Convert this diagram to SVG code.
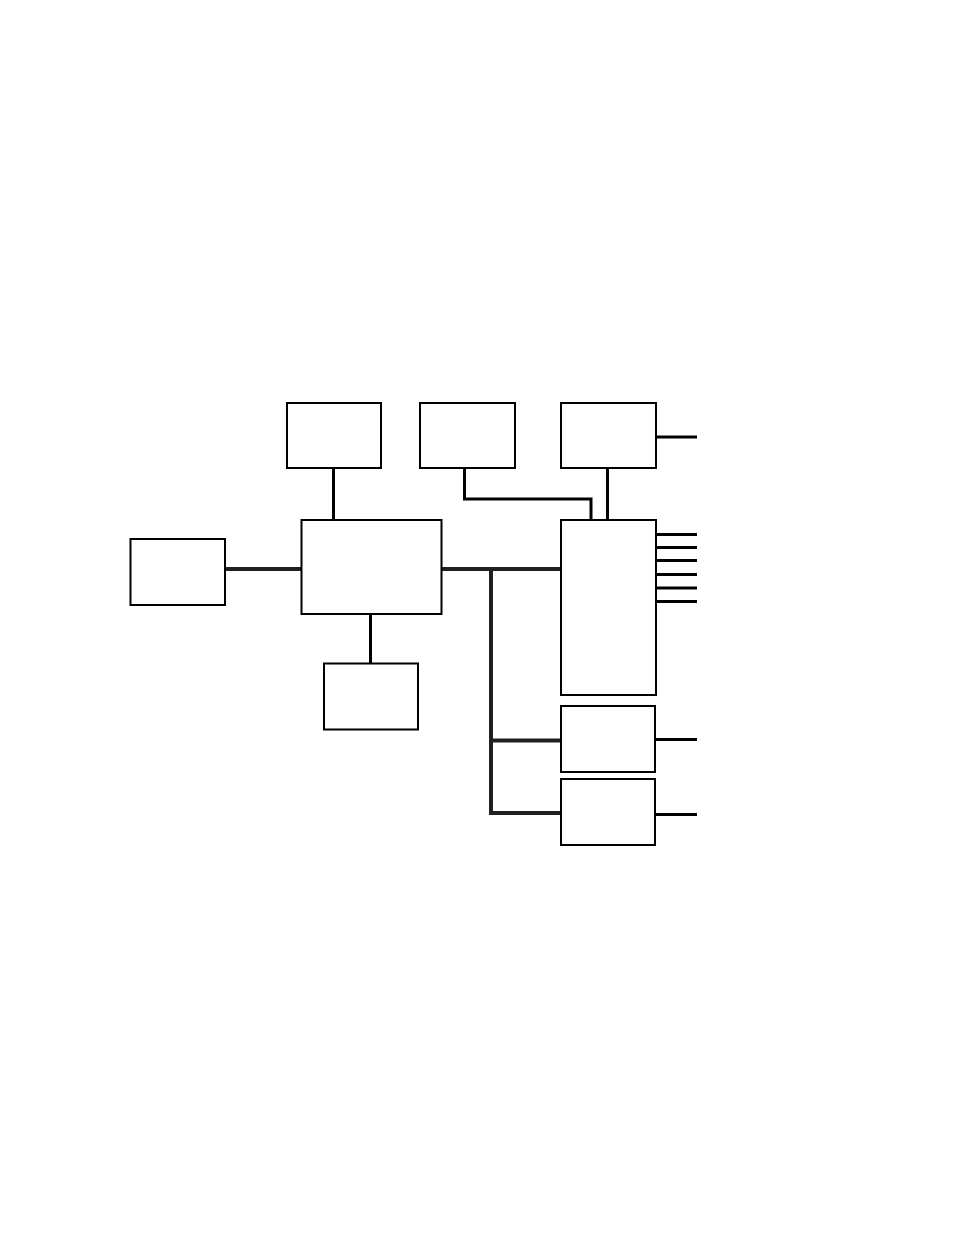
<svg xmlns="http://www.w3.org/2000/svg" width="954" height="1235" viewBox="0 0 954 1235">
<style>
.box{fill:#fff;stroke:#000;stroke-width:2}
.c{fill:none;stroke:#000;stroke-width:3}
.g{fill:none;stroke:#231f20;stroke-width:4}
</style>
<rect width="954" height="1235" fill="#fff"/>
<g id="connectors">
<line class="c" x1="333.5" y1="468" x2="333.5" y2="520"/>
<polyline class="c" points="464.5,468 464.5,499 591,499 591,520"/>
<line class="c" x1="607.5" y1="468" x2="607.5" y2="520"/>
<line class="c" x1="656" y1="437" x2="697" y2="437"/>
<line class="g" x1="225" y1="569" x2="301" y2="569"/>
<line class="g" x1="441" y1="569" x2="561" y2="569"/>
<polyline class="g" points="491,569 491,813 561,813"/>
<line class="g" x1="491" y1="740.5" x2="561" y2="740.5"/>
<line class="c" x1="370.5" y1="614" x2="370.5" y2="663"/>
<line class="c" x1="656" y1="534.5" x2="697" y2="534.5"/>
<line class="c" x1="656" y1="547.5" x2="697" y2="547.5"/>
<line class="c" x1="656" y1="560.5" x2="697" y2="560.5"/>
<line class="c" x1="656" y1="574.5" x2="697" y2="574.5"/>
<line class="c" x1="656" y1="588" x2="697" y2="588"/>
<line class="c" x1="656" y1="601.5" x2="697" y2="601.5"/>
<line class="c" x1="656" y1="739.5" x2="697" y2="739.5"/>
<line class="c" x1="656" y1="814.5" x2="697" y2="814.5"/>
</g>
<g id="boxA"><rect class="box" x="287" y="403" width="94" height="65"/></g>
<g id="boxB"><rect class="box" x="420" y="403" width="95" height="65"/></g>
<g id="boxC"><rect class="box" x="561" y="403" width="95" height="65"/></g>
<g id="boxLeft"><rect class="box" x="130.5" y="539" width="94.5" height="66"/></g>
<g id="boxCenter"><rect class="box" x="301.5" y="520" width="140" height="94"/></g>
<g id="boxBottom"><rect class="box" x="324" y="663.5" width="94" height="66"/></g>
<g id="boxD"><rect class="box" x="561" y="520" width="95" height="175"/></g>
<g id="boxE"><rect class="box" x="561" y="706" width="94" height="66"/></g>
<g id="boxF"><rect class="box" x="561" y="779" width="94" height="66"/></g>
</svg>
